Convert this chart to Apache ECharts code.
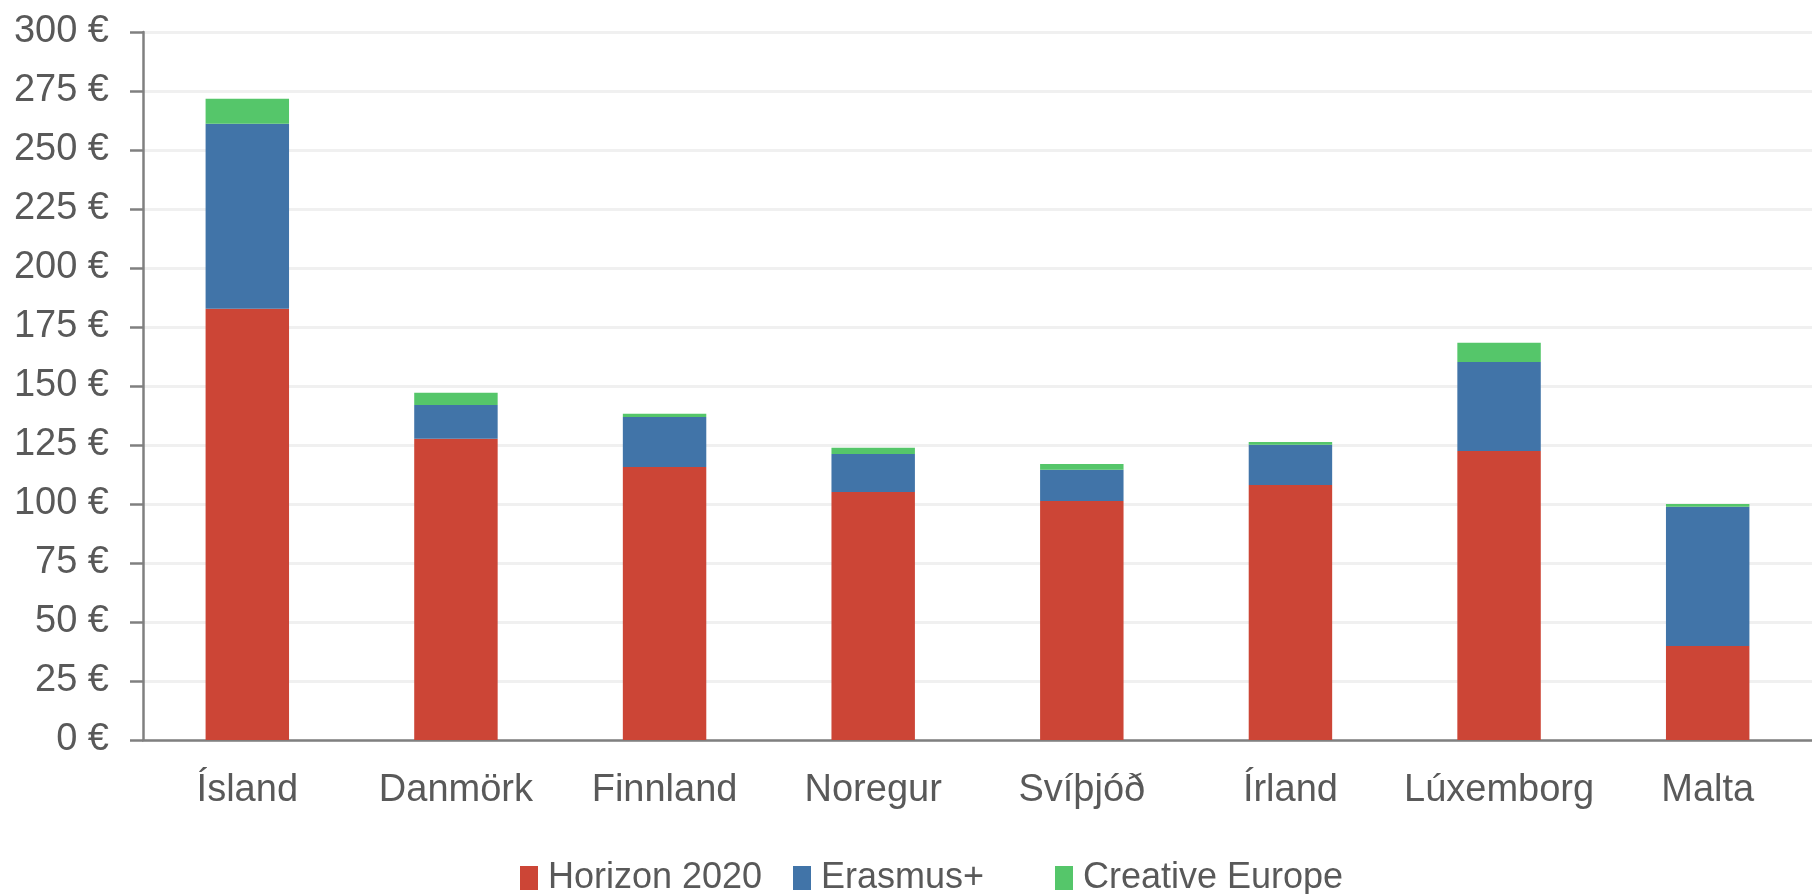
<!DOCTYPE html>
<html>
<head>
<meta charset="utf-8">
<script src="https://cdn.jsdelivr.net/npm/echarts@6/dist/echarts.min.js"></script>
<style>
html,body{margin:0;padding:0;background:#fff;}
#chart{width:1812px;height:894px;}
</style>
</head>
<body>
<div id="chart"></div>
<script>
const categories = ['Ísland','Danmörk','Finnland','Noregur','Svíþjóð','Írland','Lúxemborg','Malta'];
const horizon2020 = [182.7, 127.6, 115.7, 105.1, 101.3, 108.1, 122.5, 39.8];
const erasmusPlus = [78.4, 14.4, 21.2, 16.1, 13.2, 17.0, 37.7, 59.0];
const creativeEurope = [10.6, 5.1, 1.3, 2.6, 2.5, 1.2, 8.1, 1.2];
const seriesNames = ['Horizon 2020','Erasmus+','Creative Europe'];

const FONT = '"Liberation Sans", Arial, sans-serif';
const TXT = '#595959';
const legendLeft = [515, 788, 1050];
const chart = echarts.init(document.getElementById('chart'), null, {renderer:'canvas'});
chart.setOption({
  animation:false,
  color:['#CC4536','#4174A8','#55C66A'],
  grid:{left:143, right:-6, top:32, bottom:154, containLabel:false},
  legend: seriesNames.map((n,i)=>({
    data:[n], left:legendLeft[i], top:855,
    icon:'rect', itemWidth:18, itemHeight:24,
    textStyle:{fontFamily:FONT, fontSize:36, color:TXT, padding:[0,0,0,5]}
  })),
  xAxis:{
    type:'category', data:categories,
    axisLine:{lineStyle:{color:'#808080', width:2.5}},
    axisTick:{show:false},
    axisLabel:{interval:0, fontFamily:FONT, fontSize:38, color:TXT, margin:32}
  },
  yAxis:{
    type:'value', min:0, max:300, interval:25,
    axisLine:{show:true, lineStyle:{color:'#808080', width:2.5}},
    axisTick:{show:true, length:13, lineStyle:{color:'#808080', width:2.5}},
    axisLabel:{fontFamily:FONT, fontSize:38, color:TXT, margin:34, formatter:v=>v+' €'},
    splitLine:{lineStyle:{color:'#F0F0F0', width:3}}
  },
  series:[
    {name:seriesNames[0], type:'bar', stack:'t', data:horizon2020, barWidth:'40%'},
    {name:seriesNames[1], type:'bar', stack:'t', data:erasmusPlus, barWidth:'40%'},
    {name:seriesNames[2], type:'bar', stack:'t', data:creativeEurope, barWidth:'40%'}
  ]
});
</script>
</body>
</html>
